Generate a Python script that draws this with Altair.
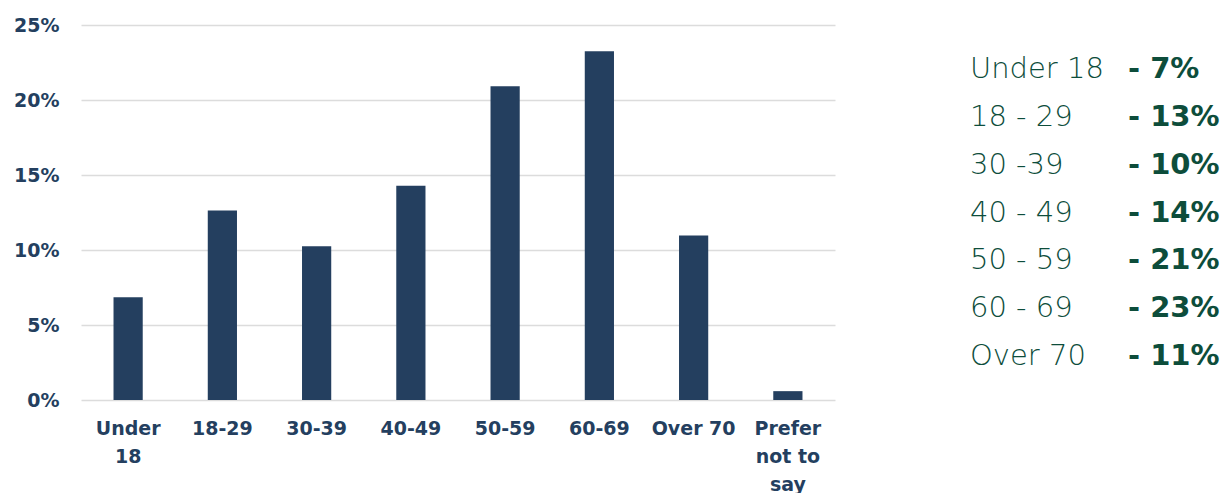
import altair as alt
import pandas as pd

# Respondents by age group (percent of all responses)
age_groups = ["Under 18", "18-29", "30-39", "40-49", "50-59", "60-69", "Over 70", "Prefer not to say"]
share_pct = [6.85, 12.63, 10.25, 14.28, 20.92, 23.25, 10.97, 0.59]

# Names used in the summary list on the right (same groups, same shares)
summary_names = ["Under 18", "18 - 29", "30 -39", "40 - 49", "50 - 59", "60 - 69", "Over 70"]

y_ticks = [0, 5, 10, 15, 20, 25]

bars_df = pd.DataFrame({"group": age_groups, "share": share_pct})
summary_df = pd.DataFrame({"name": summary_names, "share": share_pct[:len(summary_names)]})

NAVY = "#243f5f"
GREEN = "#0d4d3b"
AXIS_FONT = "DejaVu Sans"

wrap_expr = (
    "datum.label == 'Under 18' ? ['Under', '18'] : "
    "datum.label == 'Prefer not to say' ? ['Prefer', 'not to', 'say'] : datum.label"
)

bars = alt.Chart(bars_df).mark_bar(color=NAVY).encode(
    x=alt.X(
        "group:N",
        sort=age_groups,
        title=None,
        scale=alt.Scale(paddingInner=0.69, paddingOuter=0.345),
        axis=alt.Axis(
            labelAngle=0,
            labelExpr=wrap_expr,
            labelFont=AXIS_FONT,
            labelFontWeight="bold",
            labelFontSize=19,
            labelColor=NAVY,
            labelLineHeight=28,
            labelPadding=19,
            labelLimit=300,
            labelOverlap=False,
            ticks=False,
            domain=False,
            grid=False,
        ),
    ),
    y=alt.Y(
        "share:Q",
        title=None,
        scale=alt.Scale(domain=[0, 25], nice=False),
        axis=alt.Axis(
            values=y_ticks,
            labelExpr="datum.value + '%'",
            labelFont=AXIS_FONT,
            labelFontWeight="bold",
            labelFontSize=19,
            labelColor=NAVY,
            labelPadding=22,
            ticks=False,
            domain=False,
            grid=True,
            gridColor="#dcdcdc",
            gridWidth=1.5,
        ),
    ),
)

summary_base = alt.Chart(summary_df).encode(
    y=alt.Y(
        "name:N",
        sort=summary_names,
        axis=None,
        scale=alt.Scale(type="point", padding=0.914),
    ),
)

summary_names_text = summary_base.mark_text(
    align="left",
    baseline="middle",
    font=AXIS_FONT,
    fontWeight=200,
    fontSize=29,
    color=GREEN,
).encode(x=alt.value(889), text="name:N")

summary_values_text = summary_base.transform_calculate(
    txt="'- ' + format(datum.share, '.0f') + '%'"
).mark_text(
    align="left",
    baseline="middle",
    font=AXIS_FONT,
    fontWeight="bold",
    fontSize=29,
    color=GREEN,
).encode(x=alt.value(1047), text="txt:N")

chart = (
    alt.layer(bars, summary_names_text, summary_values_text)
    .resolve_scale(y="independent")
    .properties(
        width=754,
        height=375,
        padding={"left": 81, "top": 25, "right": 393, "bottom": 93},
        autosize=alt.AutoSizeParams(type="none"),
        background="white",
    )
    .configure_view(stroke=None)
)

chart.save("out.html", embed_options={"renderer": "svg", "actions": False})
